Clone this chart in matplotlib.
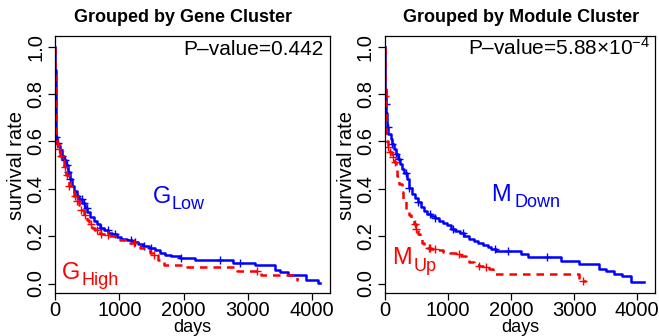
import numpy as np
import matplotlib
matplotlib.use("Agg")
import matplotlib.pyplot as plt

plt.rcParams["font.family"] = ["Liberation Sans", "DejaVu Sans"]
plt.rcParams["mathtext.fontset"] = "custom"
plt.rcParams["mathtext.rm"] = "Liberation Sans"
plt.rcParams["mathtext.it"] = "Liberation Sans:italic"

# Gene cluster panel (G_Low / G_High)
g_low_t = [0, 5, 10, 15, 20, 30, 50, 85, 115, 145, 175, 205, 235, 270, 300, 340, 380, 425,
           465, 505, 545, 600, 650, 700, 765, 825, 890, 960, 1030, 1115, 1195, 1290, 1370,
           1465, 1550, 1630, 1715, 1805, 1950, 2180, 2775, 3115, 3425, 3505, 3620, 3910, 4100, 4125]
g_low_s = [1.0, 0.9, 0.78, 0.68, 0.62, 0.595, 0.58, 0.565, 0.54, 0.52, 0.50, 0.47, 0.44, 0.41,
           0.39, 0.37, 0.355, 0.34, 0.32, 0.30, 0.28, 0.265, 0.25, 0.235, 0.225, 0.215, 0.207,
           0.198, 0.19, 0.182, 0.175, 0.168, 0.158, 0.15, 0.14, 0.13, 0.122, 0.115, 0.108, 0.098,
           0.087, 0.077, 0.059, 0.048, 0.034, 0.013, 0.004, 0.004]
g_low_cens = [20, 40, 115, 155, 185, 205, 240, 340, 420, 455, 495, 720, 820, 930, 1185, 1240,
              1390, 1490, 1960, 2575, 2885]

g_high_t = [0, 5, 10, 15, 20, 30, 50, 75, 105, 135, 165, 195, 225, 260, 290, 330, 370, 410,
            455, 495, 535, 580, 620, 670, 720, 785, 845, 930, 1010, 1095, 1175, 1260, 1330,
            1405, 1475, 1525, 1610, 1690, 2050, 2835, 3200, 3765, 3785]
g_high_s = [1.0, 0.86, 0.74, 0.66, 0.61, 0.59, 0.57, 0.54, 0.52, 0.49, 0.46, 0.44, 0.41, 0.39,
            0.37, 0.35, 0.33, 0.31, 0.29, 0.27, 0.25, 0.235, 0.225, 0.215, 0.21, 0.205, 0.2,
            0.192, 0.185, 0.178, 0.17, 0.16, 0.15, 0.14, 0.13, 0.12, 0.1, 0.08, 0.069, 0.052,
            0.034, 0.013, 0.013]
g_high_cens = [30, 60, 100, 150, 185, 225, 310, 340, 410, 465, 565, 660, 720, 820, 1235, 1545, 3140]

# Module cluster panel (M_Down / M_Up)
m_down_t = [0, 5, 10, 20, 30, 45, 60, 95, 125, 155, 185, 215, 245, 280, 310, 350, 390, 435,
            475, 525, 575, 630, 680, 740, 805, 865, 925, 990, 1050, 1120, 1195, 1265, 1340,
            1410, 1485, 1555, 1630, 1690, 1770, 1895, 2165, 2270, 2795, 3085, 3400, 3505, 3635,
            3765, 3900, 4110]
m_down_s = [1.0, 0.9, 0.82, 0.76, 0.72, 0.66, 0.63, 0.61, 0.59, 0.57, 0.545, 0.525, 0.505,
            0.485, 0.465, 0.44, 0.405, 0.38, 0.36, 0.345, 0.325, 0.305, 0.295, 0.285, 0.275,
            0.265, 0.255, 0.245, 0.232, 0.222, 0.212, 0.2, 0.19, 0.18, 0.172, 0.164, 0.155,
            0.145, 0.138, 0.136, 0.125, 0.114, 0.093, 0.082, 0.061, 0.051, 0.039, 0.030,
            0.0085, 0.0085]
m_down_cens = [20, 50, 125, 185, 225, 340, 390, 535, 720, 805, 1080, 1235, 1750, 1960, 2575]

m_up_t = [0, 5, 10, 20, 30, 50, 80, 115, 145, 175, 205, 235, 270, 300, 340, 380, 420, 465,
          505, 535, 565, 600, 630, 670, 740, 825, 925, 1030, 1135, 1215, 1290, 1340, 1420,
          1495, 1565, 1650, 1710, 3085, 3190]
m_up_s = [1.0, 0.88, 0.79, 0.68, 0.6, 0.575, 0.555, 0.535, 0.515, 0.49, 0.455, 0.42, 0.385,
          0.35, 0.315, 0.29, 0.27, 0.25, 0.23, 0.21, 0.19, 0.17, 0.16, 0.15, 0.145, 0.14,
          0.135, 0.13, 0.125, 0.117, 0.1, 0.089, 0.08, 0.075, 0.068, 0.061, 0.039, 0.011, 0.011]
m_up_cens = [10, 50, 80, 135, 165, 475, 505, 700, 720, 805, 1185, 1495, 1600, 3140]

x_ticks = [0, 1000, 2000, 3000, 4000]
y_ticks = [0.0, 0.2, 0.4, 0.6, 0.8, 1.0]

BLUE = "#0000ff"
RED = "#ff0000"

fig = plt.figure(figsize=(6.59, 3.36), dpi=100)
ax1 = fig.add_axes([55 / 659, 43 / 336, 275 / 659, 257 / 336])
ax2 = fig.add_axes([384.5 / 659, 43 / 336, 270.5 / 659, 257 / 336])


def step_at(t, s, c):
    idx = np.searchsorted(t, c, side="right") - 1
    return np.asarray(s)[idx]


def km(ax, t, s, cens, color, dashed):
    ls = (0, (3.0, 2.4)) if dashed else "-"
    ax.step(t, s, where="post", color=color, lw=1.8, linestyle=ls)
    ax.plot(cens, step_at(t, s, cens), linestyle="none", marker="+",
            color=color, markersize=5.5, mew=1.0)


km(ax1, g_low_t, g_low_s, g_low_cens, BLUE, False)
km(ax1, g_high_t, g_high_s, g_high_cens, RED, True)
km(ax2, m_down_t, m_down_s, m_down_cens, BLUE, False)
km(ax2, m_up_t, m_up_s, m_up_cens, RED, True)

for ax in (ax1, ax2):
    ax.set_xlim(0, 4280)
    ax.set_ylim(-0.04, 1.045)
    ax.set_xticks(x_ticks)
    ax.set_xticklabels([str(v) for v in x_ticks])
    ax.set_yticks(y_ticks)
    ax.set_yticklabels(["%.1f" % v for v in y_ticks], rotation=90, va="center")
    ax.tick_params(direction="out", length=5, width=0.9, labelsize=14.5)
    ax.tick_params(axis="x", pad=1)
    ax.tick_params(axis="y", pad=2)
    for sp in ax.spines.values():
        sp.set_linewidth(0.9)

# P-values
ax1.text(0.978, 0.926, "P\u2013value=0.442", transform=ax1.transAxes,
         ha="right", va="baseline", fontsize=15)
ax2.text(0.982, 0.926, "P\u2013value=5.88$\\times$10$^{-4}$", transform=ax2.transAxes,
         ha="right", va="baseline", fontsize=15)

# group labels
ax1.text(1522, 0.342, "G", color=BLUE, fontsize=17, va="baseline")
ax1.text(1818, 0.316, "Low", color=BLUE, fontsize=13, va="baseline")
ax1.text(104, 0.017, "G", color=RED, fontsize=17, va="baseline")
ax1.text(416, -0.008, "High", color=RED, fontsize=13, va="baseline")
ax2.text(1691, 0.35, "M", color=BLUE, fontsize=17, va="baseline")
ax2.text(2058, 0.322, "Down", color=BLUE, fontsize=13, va="baseline")
ax2.text(114, 0.082, "M", color=RED, fontsize=17, va="baseline")
ax2.text(454, 0.053, "Up", color=RED, fontsize=13, va="baseline")

# titles and axis labels
fig.text(182.5 / 659, 1 - 18 / 336, "Grouped by Gene Cluster", ha="center", va="center",
         fontsize=13, fontweight="bold")
fig.text(520.8 / 659, 1 - 18 / 336, "Grouped by Module Cluster", ha="center", va="center",
         fontsize=13, fontweight="bold")
fig.text(192 / 659, 4 / 336, "days", ha="center", va="baseline", fontsize=13)
fig.text(520 / 659, 4 / 336, "days", ha="center", va="baseline", fontsize=13)
fig.text(17 / 659, 1 - 166 / 336, "survival rate", ha="center", va="center",
         rotation=90, fontsize=14.5)
fig.text(347 / 659, 1 - 166 / 336, "survival rate", ha="center", va="center",
         rotation=90, fontsize=14.5)

fig.savefig("out.png", dpi=100)
